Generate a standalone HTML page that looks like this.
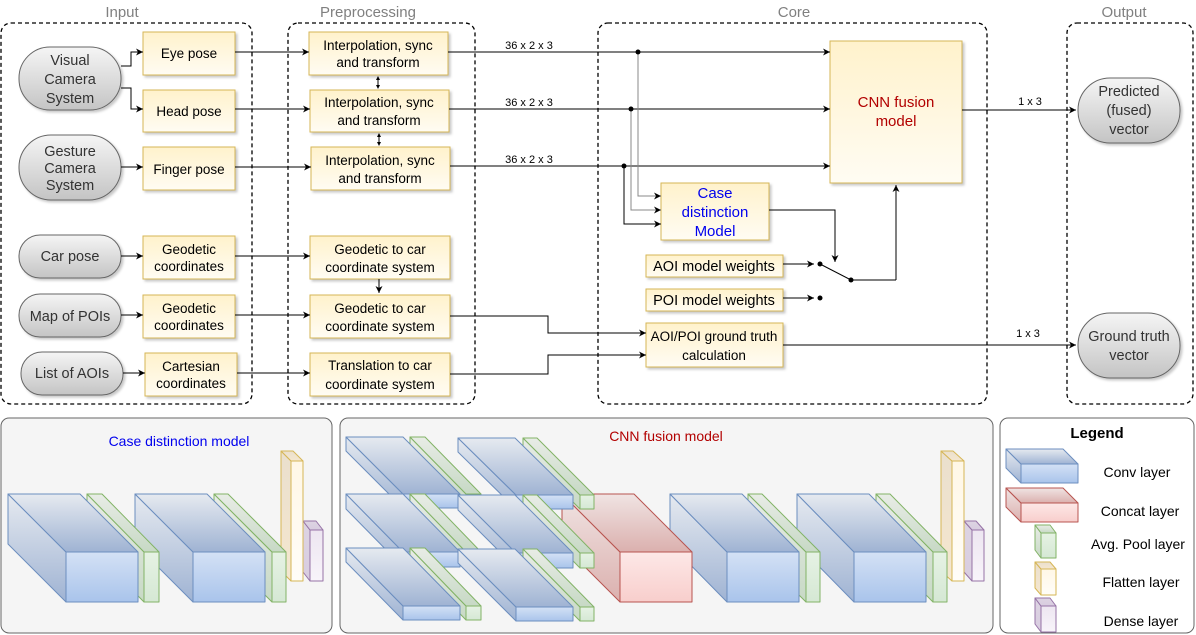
<!DOCTYPE html>
<html><head><meta charset="utf-8"><style>
html,body{margin:0;padding:0;background:#fff;width:1196px;height:635px;overflow:hidden}
svg{display:block;font-family:"Liberation Sans",Arial,sans-serif}
</style></head><body>
<svg id="s" width="1196" height="635" viewBox="0 0 1196 635" xmlns="http://www.w3.org/2000/svg">
<defs>
<linearGradient id="yb" x1="0" y1="0" x2="0" y2="1"><stop offset="0" stop-color="#fff2cc"/><stop offset="1" stop-color="#fffcf3"/></linearGradient>
<linearGradient id="gp" x1="0" y1="0" x2="0" y2="1"><stop offset="0" stop-color="#f5f5f5"/><stop offset="1" stop-color="#c4c4c4"/></linearGradient>
<filter id="sh" x="-10%" y="-10%" width="130%" height="130%"><feDropShadow dx="2" dy="2" stdDeviation="1.2" flood-color="#000" flood-opacity="0.22"/></filter>
<marker id="ar" markerWidth="8" markerHeight="8" refX="7" refY="4" orient="auto" markerUnits="userSpaceOnUse"><path d="M0,0.5 L7,4 L0,7.5 L2,4 z" fill="#000"/></marker>
<linearGradient id="cf" x1="0" y1="0" x2="0" y2="1"><stop offset="0" stop-color="#d4e1f5"/><stop offset="1" stop-color="#a9c4eb"/></linearGradient>
<linearGradient id="cs" x1="0" y1="0" x2="0" y2="1"><stop offset="0" stop-color="#e6eaf0"/><stop offset="1" stop-color="#9fb3d3"/></linearGradient>
<linearGradient id="pf" x1="0" y1="0" x2="0" y2="1"><stop offset="0" stop-color="#e6f2e4"/><stop offset="1" stop-color="#d5e8d4"/></linearGradient>
<linearGradient id="ps" x1="0" y1="0" x2="0" y2="1"><stop offset="0" stop-color="#e8ece6"/><stop offset="1" stop-color="#c7d9c5"/></linearGradient>
<linearGradient id="rf" x1="0" y1="0" x2="0" y2="1"><stop offset="0" stop-color="#fde8e7"/><stop offset="1" stop-color="#f8cecc"/></linearGradient>
<linearGradient id="rs" x1="0" y1="0" x2="0" y2="1"><stop offset="0" stop-color="#f0e4e3"/><stop offset="1" stop-color="#dbb0ae"/></linearGradient>
<linearGradient id="ff" x1="0" y1="0" x2="0" y2="1"><stop offset="0" stop-color="#fff7e6"/><stop offset="1" stop-color="#fffdf8"/></linearGradient>
<linearGradient id="fs" x1="0" y1="0" x2="0" y2="1"><stop offset="0" stop-color="#eadfcd"/><stop offset="1" stop-color="#f5e7cf"/></linearGradient>
<linearGradient id="df" x1="0" y1="0" x2="0" y2="1"><stop offset="0" stop-color="#ede6f1"/><stop offset="1" stop-color="#f8f4fa"/></linearGradient>
<linearGradient id="ds" x1="0" y1="0" x2="0" y2="1"><stop offset="0" stop-color="#ddd4e2"/><stop offset="1" stop-color="#d8cce0"/></linearGradient>
</defs>

<g fill="none" stroke="#000" stroke-width="1.3" stroke-dasharray="4,3">
<rect x="1" y="23" width="251" height="381" rx="10"/>
<rect x="288" y="23" width="187" height="381" rx="10"/>
<rect x="598" y="23" width="389" height="381" rx="10"/>
<rect x="1067" y="23" width="126" height="381" rx="10"/>
</g>
<g fill="#808080" font-size="15" text-anchor="middle">
<text x="122" y="17">Input</text><text x="368" y="17">Preprocessing</text>
<text x="794" y="17">Core</text><text x="1124" y="17">Output</text>
</g>

<g fill="url(#gp)" stroke="#666" stroke-width="1" filter="url(#sh)">
<rect x="19" y="47" width="102" height="63" rx="31"/>
<rect x="19" y="135" width="102" height="65" rx="32"/>
<rect x="19" y="235" width="102" height="43" rx="21"/>
<rect x="19" y="294" width="102" height="43" rx="21"/>
<rect x="21" y="352" width="102" height="43" rx="21"/>
<rect x="1078" y="78" width="102" height="65" rx="32"/>
<rect x="1078" y="313" width="102" height="65" rx="32"/>
</g>
<g fill="#333" font-size="14.5" text-anchor="middle">
<text x="70" y="65">Visual</text><text x="70" y="84">Camera</text><text x="70" y="103">System</text>
<text x="70" y="156">Gesture</text><text x="70" y="173">Camera</text><text x="70" y="190">System</text>
<text x="70" y="261">Car pose</text>
<text x="70" y="321">Map of POIs</text>
<text x="72" y="378">List of AOIs</text>
<text x="1129" y="96">Predicted</text><text x="1129" y="115">(fused)</text><text x="1129" y="134">vector</text>
<text x="1129" y="341">Ground truth</text><text x="1129" y="360">vector</text>
</g>

<g fill="url(#yb)" stroke="#d6b656" stroke-width="1" filter="url(#sh)">
<rect x="143" y="32" width="92" height="43"/>
<rect x="143" y="90" width="92" height="42"/>
<rect x="143" y="147" width="92" height="43"/>
<rect x="143" y="236" width="92" height="43"/>
<rect x="143" y="295" width="92" height="43"/>
<rect x="145" y="353" width="92" height="43"/>
<rect x="309" y="32" width="139" height="43"/>
<rect x="310" y="90" width="139" height="42"/>
<rect x="311" y="147" width="139" height="43"/>
<rect x="310" y="236" width="140" height="43"/>
<rect x="310" y="295" width="140" height="43"/>
<rect x="310" y="353" width="140" height="43"/>
<rect x="830" y="41" width="132" height="142"/>
<rect x="661" y="183" width="108" height="57"/>
<rect x="646" y="255" width="137" height="22"/>
<rect x="646" y="289" width="137" height="22"/>
<rect x="646" y="323" width="137" height="44"/>
</g>
<g fill="#000" font-size="13.5" text-anchor="middle">
<text x="189" y="58">Eye pose</text>
<text x="189" y="116">Head pose</text>
<text x="189" y="174">Finger pose</text>
<text x="189" y="254">Geodetic</text><text x="189" y="271">coordinates</text>
<text x="189" y="313">Geodetic</text><text x="189" y="330">coordinates</text>
<text x="191" y="371">Cartesian</text><text x="191" y="388">coordinates</text>
<text x="378" y="50">Interpolation, sync</text><text x="378" y="67">and transform</text>
<text x="379" y="107">Interpolation, sync</text><text x="379" y="125">and transform</text>
<text x="380" y="165">Interpolation, sync</text><text x="380" y="183">and transform</text>
<text x="380" y="254">Geodetic to car</text><text x="380" y="272">coordinate system</text>
<text x="380" y="313">Geodetic to car</text><text x="380" y="331">coordinate system</text>
<text x="380" y="370">Translation to car</text><text x="380" y="389">coordinate system</text>
<text x="714" y="271" font-size="14.5">AOI model weights</text>
<text x="714" y="305" font-size="14.5">POI model weights</text>
<text x="714" y="341">AOI/POI ground truth</text><text x="714" y="360">calculation</text>
</g>
<g font-size="15" text-anchor="middle">
<text x="896" y="107" fill="#b20000">CNN fusion</text><text x="896" y="126" fill="#b20000">model</text>
<text x="715" y="198" fill="#0000ee">Case</text><text x="715" y="217" fill="#0000ee">distinction</text><text x="715" y="236" fill="#0000ee">Model</text>
</g>
<g font-size="11" fill="#000" text-anchor="middle">
<text x="529" y="49">36 x 2 x 3</text><text x="529" y="106">36 x 2 x 3</text><text x="529" y="163">36 x 2 x 3</text>
<text x="1030" y="105">1 x 3</text><text x="1028" y="337">1 x 3</text>
</g>

<g fill="none" stroke="#000" stroke-width="1" marker-end="url(#ar)">
<path d="M121,66 H131 V52 H143"/>
<path d="M121,88 H131 V109 H143"/>
<path d="M121,167 H143"/>
<path d="M121,256 H143"/>
<path d="M121,315 H143"/>
<path d="M123,373 H145"/>
<path d="M235,52 H309"/>
<path d="M235,109 H310"/>
<path d="M235,167 H311"/>
<path d="M235,256 H310"/>
<path d="M235,315 H310"/>
<path d="M237,373 H310"/>
<path d="M379,279 V293"/>
<path d="M448,52 H830"/>
<path d="M449,109 H830"/>
<path d="M450,166 H830"/>
<path d="M638,52 V196 H661" stroke="#888"/>
<path d="M631,109 V210 H661" stroke="#888"/>
<path d="M624,166 V224 H661"/>
<path d="M769,210 H835 V262"/>
<path d="M783,264 H814"/>
<path d="M783,298 H814"/>
<path d="M896,280 V185"/>
<path d="M450,316 H548 V333 H646"/>
<path d="M450,374 H548 V355 H646"/>
<path d="M962,110 H1076"/>
<path d="M783,345 H1076"/>
</g>
<g stroke="#000" stroke-width="1" fill="#000">
<line x1="378" y1="78" x2="378" y2="87"/><path d="M376,80 L378,76 L380,80 z M376,85 L378,89 L380,85 z" stroke="none"/>
<line x1="379" y1="135" x2="379" y2="144"/><path d="M377,137 L379,133 L381,137 z M377,142 L379,146 L381,142 z" stroke="none"/>
</g>
<path d="M820,264 L851,280 H896" fill="none" stroke="#000"/>
<g fill="#000"><circle cx="638" cy="52" r="2.5"/><circle cx="631" cy="109" r="2.5"/><circle cx="624" cy="166" r="2.5"/>
<circle cx="820" cy="264" r="2.5"/><circle cx="820" cy="298" r="2.5"/><circle cx="851" cy="280" r="2.5"/></g>

<g fill="#f5f5f5" stroke="#666" stroke-width="1">
<rect x="1" y="418" width="331" height="215" rx="8"/>
<rect x="340" y="418" width="653" height="215" rx="8"/>
<rect x="1000" y="418" width="194" height="215" rx="8" fill="#fff"/>
</g>
<text x="179" y="446" font-size="14" fill="#0000ee" text-anchor="middle">Case distinction model</text>
<text x="666" y="441" font-size="14" fill="#b20000" text-anchor="middle">CNN fusion model</text>
<text x="1097" y="438" font-size="15" font-weight="bold" text-anchor="middle">Legend</text>
<g font-size="14" fill="#000" text-anchor="middle">
<text x="1137" y="477">Conv layer</text><text x="1140" y="516">Concat layer</text>
<text x="1138" y="549">Avg. Pool layer</text><text x="1141" y="587">Flatten layer</text><text x="1141" y="626">Dense layer</text>
</g>
<g id="cubes"></g>
</svg>
<script>
var T={c:["url(#cf)","url(#cs)","#6c8ebf"],p:["url(#pf)","url(#ps)","#82b366"],r:["url(#rf)","url(#rs)","#b85450"],f:["url(#ff)","url(#fs)","#d6b656"],d:["url(#df)","url(#ds)","#9673a6"]};
var out="";
function cb(t,x1,x2,y1,y2,bx,by){var c=T[t],ox=x1-bx,oy=y1-by,w=x2-x1,h=y2-y1;
var s=' stroke="'+c[2]+'" stroke-width="1" stroke-linejoin="round"';
out+='<polygon points="'+bx+','+by+' '+x1+','+y1+' '+x1+','+y2+' '+bx+','+(y2-oy)+'" fill="'+c[1]+'"'+s+'/>';
out+='<polygon points="'+bx+','+by+' '+(bx+w)+','+by+' '+x2+','+y1+' '+x1+','+y1+'" fill="'+c[1]+'"'+s+'/>';
out+='<rect x="'+x1+'" y="'+y1+'" width="'+w+'" height="'+h+'" fill="'+c[0]+'"'+s+'/>';}
// case distinction: draw right to left
cb('d',310,323,530,581,303,521);cb('f',291,303,461,581,281,451);
cb('p',272,286,552,602,214,494);cb('c',193,265,552,602,135,494);
cb('p',144,159,552,602,87,494);cb('c',66,138,552,602,8,494);
// CNN fusion right to left
cb('d',972,984,530,581,964,521);cb('f',952,964,461,581,941,451);
cb('p',933,947,552,602,876,494);cb('c',854,926,552,602,797,494);
cb('p',806,820,552,602,748,494);cb('c',727,799,552,602,670,494);
cb('r',620,692,552,602,562,494);
var rows=[[437,494,508],[494,552,567],[548,606,620]];
for(var i=0;i<3;i++){var r=rows[i];
cb('p',580,594,r[1]+1,r[2]+1,523,r[0]+1);cb('c',516,573,r[1]+1,r[2]+1,458,r[0]+1);
cb('p',466,481,r[1],r[2],410,r[0]);cb('c',403,460,r[1],r[2],346,r[0]);}
// legend
cb('c',1021,1078,464,483,1006,449);cb('r',1021,1078,503,522,1006,488);
cb('p',1041,1056,533,558,1035,525);cb('f',1041,1056,569,595,1035,562);cb('d',1041,1056,606,632,1035,598);
document.getElementById('cubes').innerHTML=out;
</script>
</body></html>
